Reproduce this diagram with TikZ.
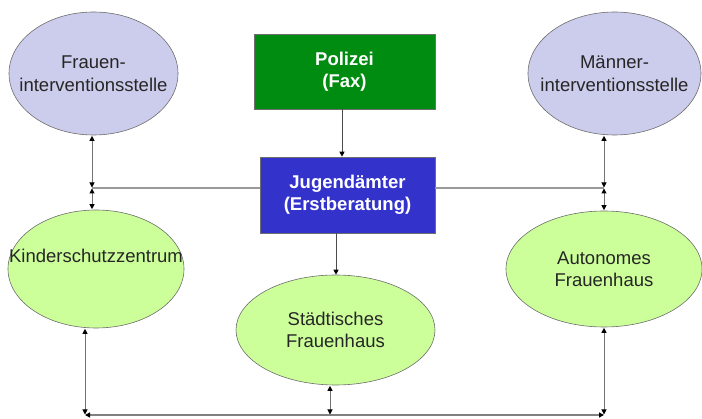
\documentclass[tikz,border=0pt]{standalone}
\usepackage{fontspec}
\setmainfont{Liberation Sans}
\usetikzlibrary{shapes.geometric,arrows.meta}
\definecolor{lav}{RGB}{204,204,236}
\definecolor{lgreen}{RGB}{204,255,153}
\definecolor{polgreen}{RGB}{0,140,16}
\definecolor{jugblue}{RGB}{51,51,204}
\definecolor{edgegray}{RGB}{110,110,110}
\begin{document}
\begin{tikzpicture}[x=1pt,y=-1pt,
  ell/.style={ellipse, draw=edgegray, line width=0.6pt, inner sep=0pt},
  txt/.style={align=center, inner sep=0pt, font=\fontsize{18.5}{22.5}\selectfont, text=black!85},
  boxnode/.style={rectangle, draw=edgegray, line width=0.6pt, inner sep=0pt, align=center,
    text=white, font=\fontsize{18.5}{22.5}\selectfont\bfseries},
  tip/.tip={Triangle[length=5pt,width=5pt,color=black]},
  link/.style={draw=black!55, line width=1pt, tip-tip, shorten >=0.5pt, shorten <=0.5pt},
  feed/.style={draw=black!70, line width=0.9pt, -tip},
  hline/.style={draw=black!40, line width=1.8pt},
  bline/.style={draw=black!50, line width=1.2pt}]
\useasboundingbox (0,0) rectangle (702,419);

% ellipses
\node[ell, fill=lav, minimum width=169pt, minimum height=123pt] (frauen) at (93.5,73.5) {};
\node[txt] (frauenT) at (frauen.center) {Frauen-\\interventionsstelle};
\node[ell, fill=lav, minimum width=173pt, minimum height=123pt] (maenner) at (614.5,73.5) {};
\node[txt] (maennerT) at (maenner.center) {Männer-\\interventionsstelle};
\node[ell, fill=lgreen, minimum width=176pt, minimum height=118pt] (kinder) at (96,269) {};
\node[txt] (kinderT) at (96,255.5) {Kinderschutzzentrum};
\node[ell, fill=lgreen, minimum width=199pt, minimum height=110pt] (stadt) at (335.5,330) {};
\node[txt] (stadtT) at (stadt.center) {Städtisches\\Frauenhaus};
\node[ell, fill=lgreen, minimum width=196pt, minimum height=116pt] (auton) at (604,269) {};
\node[txt] (autonT) at (auton.center) {Autonomes\\Frauenhaus};

% boxes
\node[boxnode, fill=polgreen, minimum width=181pt, minimum height=75pt] (pol) at (344.5,71.5) {Polizei\\(Fax)};
\node[boxnode, fill=jugblue, minimum width=175pt, minimum height=76pt] (jug) at (347.5,195) {Jugendämter\\(Erstberatung)};

% junction coordinates
\coordinate (L1) at (92,188);
\coordinate (R1) at (604,188);
\coordinate (BL) at (85,415);
\coordinate (BM) at (330,415);
\coordinate (BR) at (604,415);
\coordinate (PA) at (342,0);
\coordinate (SA) at (336,0);

% feeds
\draw[feed] (pol.south -| PA) -- (jug.north -| PA);
\draw[feed] (jug.south -| SA) -- (stadt.north -| SA);

% upper horizontal
\draw[hline] (L1) -- (jug.west |- L1);
\draw[hline] (jug.east |- R1) -- (R1);

% upper verticals
\draw[link] (frauen.south -| L1) -- (L1);
\draw[link] (L1) -- (kinder.north -| L1);
\draw[link] (maenner.south -| R1) -- (R1);
\draw[link] (R1) -- (auton.north -| R1);

% bottom
\draw[bline, tip-tip] (BL) -- (BR);
\draw[link] (kinder.south -| BL) -- (BL);
\draw[link] (stadt.south -| BM) -- (BM);
\draw[link] (auton.south -| BR) -- (BR);
\end{tikzpicture}
\end{document}
